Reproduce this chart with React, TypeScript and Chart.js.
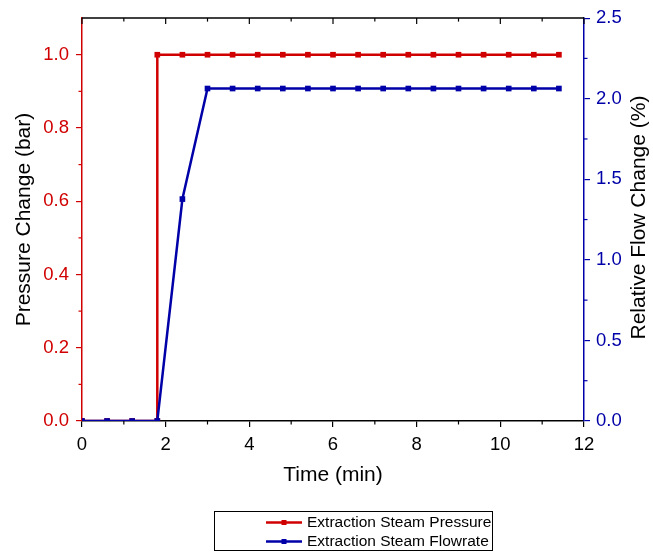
import React, { useEffect, useRef } from "react";
import { Chart, registerables } from "chart.js";

Chart.register(...registerables);

const RED = "#d10000";
const BLUE = "#0000a8";
const FONT = "'Liberation Sans', Arial, sans-serif";

const pressureTimes = [0, 0.6, 1.2, 1.8, 1.8, 2.4, 3.0, 3.6, 4.2, 4.8, 5.4, 6.0, 6.6, 7.2, 7.8, 8.4, 9.0, 9.6, 10.2, 10.8, 11.4];
const pressureValues = [0, 0, 0, 0, 1.0, 1.0, 1.0, 1.0, 1.0, 1.0, 1.0, 1.0, 1.0, 1.0, 1.0, 1.0, 1.0, 1.0, 1.0, 1.0, 1.0];

const flowTimes = [0, 0.6, 1.2, 1.8, 2.4, 3.0, 3.6, 4.2, 4.8, 5.4, 6.0, 6.6, 7.2, 7.8, 8.4, 9.0, 9.6, 10.2, 10.8, 11.4];
const flowValues = [0, 0, 0, 0, 1.377, 2.063, 2.063, 2.063, 2.063, 2.063, 2.063, 2.063, 2.063, 2.063, 2.063, 2.063, 2.063, 2.063, 2.063, 2.063];

const xTicks = [0, 2, 4, 6, 8, 10, 12];
const xMinorTicks = [1, 3, 5, 7, 9, 11];
const leftTicks = [0, 0.2, 0.4, 0.6, 0.8, 1.0];
const leftMinorTicks = [0.1, 0.3, 0.5, 0.7, 0.9];
const rightTicks = [0, 0.5, 1.0, 1.5, 2.0, 2.5];
const rightMinorTicks = [0.25, 0.75, 1.25, 1.75, 2.25];

const seriesLabels = ["Extraction Steam Pressure", "Extraction Steam Flowrate"];
const rightTitle = "Relative Flow Change (%)";

const extrasPlugin = {
  id: "extras",
  afterDraw(chart: any) {
    const ctx = chart.ctx;
    const { left, right, top, bottom } = chart.chartArea;
    const xs = chart.scales.x;
    const yl = chart.scales.y;
    const yr = chart.scales.y1;
    ctx.save();
    ctx.lineWidth = 1.5;
    // top axis
    ctx.strokeStyle = "#000";
    ctx.beginPath();
    ctx.moveTo(left, top);
    ctx.lineTo(right, top);
    ctx.stroke();
    ctx.lineWidth = 1.2;
    xTicks.forEach((v) => {
      const px = xs.getPixelForValue(v);
      ctx.beginPath();
      ctx.moveTo(px, top);
      ctx.lineTo(px, top + 6);
      ctx.stroke();
    });
    xMinorTicks.forEach((v) => {
      const px = xs.getPixelForValue(v);
      ctx.beginPath();
      ctx.moveTo(px, top);
      ctx.lineTo(px, top + 3.5);
      ctx.stroke();
      ctx.beginPath();
      ctx.moveTo(px, bottom);
      ctx.lineTo(px, bottom + 3.5);
      ctx.stroke();
    });
    ctx.strokeStyle = RED;
    leftMinorTicks.forEach((v) => {
      const py = yl.getPixelForValue(v);
      ctx.beginPath();
      ctx.moveTo(left, py);
      ctx.lineTo(left - 3.5, py);
      ctx.stroke();
    });
    ctx.strokeStyle = BLUE;
    rightMinorTicks.forEach((v) => {
      const py = yr.getPixelForValue(v);
      ctx.beginPath();
      ctx.moveTo(right, py);
      ctx.lineTo(right + 3.5, py);
      ctx.stroke();
    });
    // right axis title (reads bottom to top)
    ctx.save();
    ctx.translate(639, (top + bottom) / 2 - 2);
    ctx.rotate(-Math.PI / 2);
    ctx.fillStyle = "#000";
    ctx.font = `21px ${FONT}`;
    ctx.textAlign = "center";
    ctx.textBaseline = "middle";
    ctx.fillText(rightTitle, 0, 0);
    ctx.restore();
    // legend
    const bx = 214.5, by = 511.5, bw = 278, bh = 39;
    ctx.strokeStyle = "#000";
    ctx.lineWidth = 1;
    ctx.strokeRect(bx, by, bw, bh);
    const rows = [522.5, 541.5];
    chart.data.datasets.forEach((ds: any, i: number) => {
      const y = rows[i];
      ctx.strokeStyle = ds.borderColor;
      ctx.lineWidth = 2.5;
      ctx.beginPath();
      ctx.moveTo(266, y);
      ctx.lineTo(302, y);
      ctx.stroke();
      ctx.fillStyle = ds.borderColor;
      ctx.fillRect(281.5, y - 2.5, 5, 5);
      ctx.fillStyle = "#000";
      ctx.font = `15.5px ${FONT}`;
      ctx.textAlign = "left";
      ctx.textBaseline = "middle";
      ctx.fillText(seriesLabels[i], 307, y + 0.5);
    });
    ctx.restore();
  },
};

export default function App() {
  const ref = useRef<HTMLCanvasElement | null>(null);
  useEffect(() => {
    document.body.style.margin = "0";
    if (!ref.current) return;
    const chart = new Chart(ref.current, {
      type: "line",
      data: {
        datasets: [
          {
            label: seriesLabels[0],
            data: pressureTimes.map((t, i) => ({ x: t, y: pressureValues[i] })),
            yAxisID: "y",
            borderColor: RED,
            backgroundColor: RED,
            borderWidth: 2.5,
            pointStyle: "rect",
            pointRadius: 4,
            pointBorderWidth: 0,
            tension: 0,
            order: 1,
          },
          {
            label: seriesLabels[1],
            data: flowTimes.map((t, i) => ({ x: t, y: flowValues[i] })),
            yAxisID: "y1",
            borderColor: BLUE,
            backgroundColor: BLUE,
            borderWidth: 2.5,
            pointStyle: "rect",
            pointRadius: 4,
            pointBorderWidth: 0,
            tension: 0,
            order: 0,
          },
        ],
      },
      options: {
        responsive: false,
        animation: false,
        layout: { padding: { top: 16, bottom: 62, left: 0, right: 0 } },
        plugins: { legend: { display: false }, tooltip: { enabled: false } },
        scales: {
          x: {
            type: "linear",
            position: "bottom",
            min: 0,
            max: 12,
            afterBuildTicks: (s: any) => { s.ticks = xTicks.map((v) => ({ value: v })); },
            afterFit: (s: any) => { s.height = 69; },
            ticks: { color: "#000", font: { size: 18.5, family: FONT }, padding: 7 },
            grid: { display: true, drawOnChartArea: false, drawTicks: true, tickLength: 6, color: "#000", lineWidth: 1.2 },
            border: { display: true, color: "#000", width: 1.5 },
            title: { display: true, text: "Time (min)", color: "#000", font: { size: 21, family: FONT }, padding: { top: 2, bottom: 2 } },
          },
          y: {
            type: "linear",
            position: "left",
            min: 0,
            max: 1.1,
            afterBuildTicks: (s: any) => { s.ticks = leftTicks.map((v) => ({ value: v })); },
            afterFit: (s: any) => { s.width = 82; },
            ticks: { color: RED, font: { size: 18.5, family: FONT }, padding: 7, callback: (v: any) => Number(v).toFixed(1) },
            grid: { display: true, drawOnChartArea: false, drawTicks: true, tickLength: 6, color: RED, lineWidth: 1.2 },
            border: { display: true, color: RED, width: 1.5 },
            title: { display: true, text: "Pressure Change (bar)", color: "#000", font: { size: 21, family: FONT }, padding: { top: 11.5, bottom: 2 } },
          },
          y1: {
            type: "linear",
            position: "right",
            min: 0,
            max: 2.5,
            afterBuildTicks: (s: any) => { s.ticks = rightTicks.map((v) => ({ value: v })); },
            afterFit: (s: any) => { s.width = 69; },
            ticks: { color: BLUE, font: { size: 18.5, family: FONT }, padding: 6, callback: (v: any) => Number(v).toFixed(1) },
            grid: { display: true, drawOnChartArea: false, drawTicks: true, tickLength: 6, color: BLUE, lineWidth: 1.2 },
            border: { display: true, color: BLUE, width: 1.5 },
            title: { display: false },
          },
        },
      },
      plugins: [extrasPlugin],
    } as any);
    return () => chart.destroy();
  }, []);
  return <canvas ref={ref} width={653} height={552} style={{ display: "block" }} />;
}
